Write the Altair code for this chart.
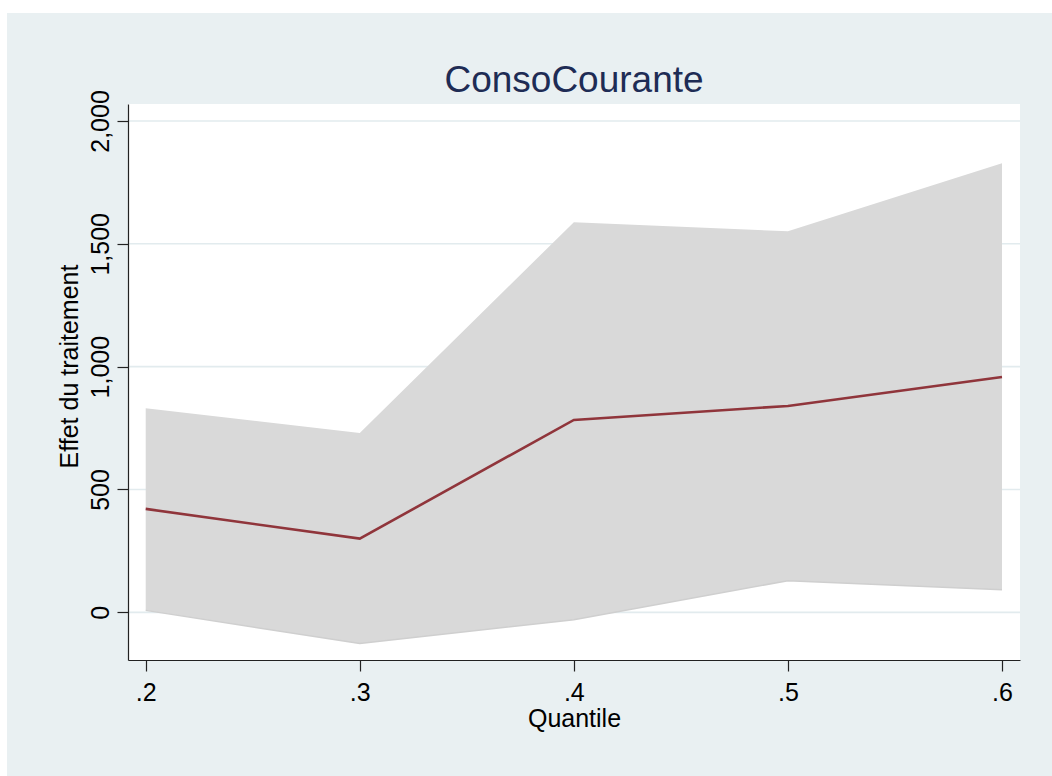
import altair as alt
import pandas as pd

# Quantile treatment effects with confidence band
quantiles = [0.2, 0.3, 0.4, 0.5, 0.6]
effet = [421, 300, 783, 840, 958]
borne_inf = [8, -127, -30, 129, 92]
borne_sup = [831, 730, 1588, 1551, 1828]

y_ticks = [0, 500, 1000, 1500, 2000]
x_ticks = quantiles

W, H = 892, 556
BG = "#e9f0f2"
FONT = "Liberation Sans"

df = pd.DataFrame({"q": quantiles, "effet": effet, "lo": borne_inf, "hi": borne_sup})
grid_df = pd.DataFrame({"v": y_ticks})
one = pd.DataFrame({"k": [0]})

xs = alt.Scale(domain=[0.19173, 0.60841], nice=False, zero=False)
ys = alt.Scale(domain=[-194, 2069], nice=False, zero=False)

x_axis = alt.Axis(
    values=x_ticks, labelExpr="replace(format(datum.value, '.1f'), '0.', '.')",
    title="Quantile", titleY=66, titleBaseline="alphabetic", titleFontSize=25,
    titleFontWeight="normal", labelFontSize=25, labelPadding=9, tickSize=11,
    grid=False, zindex=1, domainColor="#222222", tickColor="#222222",
    domainWidth=1.2, tickWidth=1.2, labelColor="black", titleColor="black",
    labelFont=FONT, titleFont=FONT,
)
y_axis = alt.Axis(
    values=y_ticks, labelExpr="format(datum.value, ',.0f')",
    title="Effet du traitement",
    titleAngle=270, titleX=-51, titleY=262, titleAlign="center",
    titleBaseline="alphabetic", titleFontSize=25, titleFontWeight="normal",
    labelAngle=270, labelAlign="center", labelBaseline="alphabetic",
    labelFontSize=25, labelPadding=9, tickSize=11, grid=False, zindex=1,
    domainColor="#222222", tickColor="#222222", domainWidth=1.2, tickWidth=1.2,
    labelColor="black", titleColor="black", labelFont=FONT, titleFont=FONT,
)

# Outer panel and white plot region
panel = alt.Chart(one).mark_rect(color=BG).encode(
    x=alt.value(-121), x2=alt.value(924), y=alt.value(-91), y2=alt.value(672)
)
plot_bg = alt.Chart(one).mark_rect(color="white").encode(
    x=alt.value(0), x2=alt.value(W), y=alt.value(0), y2=alt.value(H)
)

grid = alt.Chart(grid_df).mark_rule(color="#e2ebee", strokeWidth=1.6).encode(
    y=alt.Y("v:Q", scale=ys, axis=y_axis),
    x=alt.value(0), x2=alt.value(W),
)

band = alt.Chart(df).mark_area(
    color="#d9d9d9", opacity=1, line={"color": "#cfcfcf", "strokeWidth": 1.5}
).encode(
    x=alt.X("q:Q", scale=xs, axis=x_axis),
    y=alt.Y("lo:Q", scale=ys, axis=y_axis),
    y2="hi:Q",
)

line = alt.Chart(df).mark_line(color="#90353b", strokeWidth=2.6).encode(
    x=alt.X("q:Q", scale=xs, axis=x_axis),
    y=alt.Y("effet:Q", scale=ys, axis=y_axis),
)

chart = alt.layer(panel, plot_bg, grid, band, line).properties(
    width=W, height=H,
    title=alt.TitleParams(
        "ConsoCourante", fontSize=37, font=FONT, fontWeight="normal",
        color="#1e2c55", anchor="middle", baseline="alphabetic", offset=0, dy=116,
    ),
    padding={"left": 128, "top": 104, "right": 32, "bottom": 116},
    autosize=alt.AutoSizeParams(type="none"),
    background="white",
).configure_view(stroke=None, fill=None)

chart.save("out.html", embed_options={"renderer": "svg", "actions": False})
